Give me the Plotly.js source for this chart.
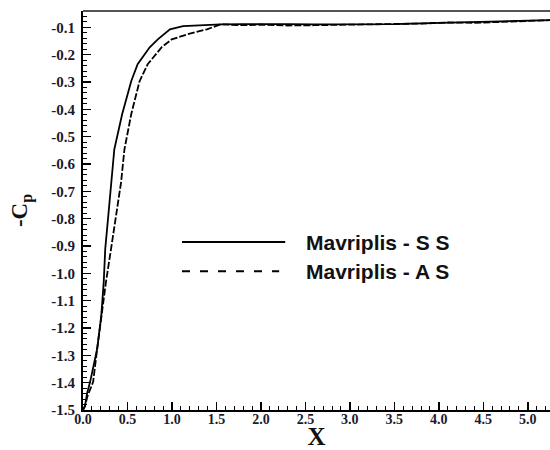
<!DOCTYPE html>
<html>
<head>
<meta charset="utf-8">
<script src="https://cdn.plot.ly/plotly-3.0.1.min.js"></script>
<style>
  html, body { margin: 0; padding: 0; background: #fff; }
  #chart { width: 550px; height: 450px; }
</style>
</head>
<body>
<div id="chart"></div>
<script>
// Pressure coefficient (-Cp) along X, two Mavriplis solutions
const ssX = [0, 0.023, 0.045, 0.08, 0.159, 0.205, 0.233, 0.25, 0.284, 0.315, 0.352, 0.44, 0.542, 0.614, 0.75, 0.841, 0.977, 1.125, 1.3, 1.55, 1.8, 2.0, 2.3, 2.6, 2.9, 3.2, 3.5, 3.8, 4.1, 4.4, 4.7, 5.0, 5.3];
const ssY = [-1.5, -1.485, -1.44, -1.397, -1.277, -1.156, -1.032, -0.911, -0.79, -0.667, -0.546, -0.418, -0.297, -0.235, -0.173, -0.144, -0.107, -0.095, -0.092, -0.089, -0.088, -0.087, -0.088, -0.089, -0.089, -0.089, -0.088, -0.085, -0.083, -0.082, -0.079, -0.076, -0.073];

const asX = [0, 0.023, 0.05, 0.114, 0.159, 0.205, 0.227, 0.258, 0.315, 0.372, 0.428, 0.466, 0.542, 0.636, 0.727, 0.883, 0.997, 1.167, 1.394, 1.545, 1.8, 2.0, 2.3, 2.6, 2.9, 3.2, 3.5, 3.8, 4.1, 4.4, 4.7, 5.0, 5.3];
const asY = [-1.5, -1.485, -1.45, -1.397, -1.277, -1.156, -1.094, -1.032, -0.911, -0.79, -0.667, -0.546, -0.418, -0.297, -0.235, -0.173, -0.144, -0.126, -0.107, -0.089, -0.092, -0.09, -0.093, -0.092, -0.091, -0.09, -0.089, -0.086, -0.082, -0.083, -0.08, -0.077, -0.073];

const seriesNames = ["Mavriplis - S S", "Mavriplis - A S"];

const yTickVals = [-1.5, -1.4, -1.3, -1.2, -1.1, -1.0, -0.9, -0.8, -0.7, -0.6, -0.5, -0.4, -0.3, -0.2, -0.1];
const yTickText = yTickVals.map(v => "<b>" + v.toFixed(1) + "</b>"); // plain hyphen minus
const xTickVals = [0, 0.5, 1.0, 1.5, 2.0, 2.5, 3.0, 3.5, 4.0, 4.5, 5.0];
const xTickText = xTickVals.map(v => "<b>" + v.toFixed(1) + "</b>");

const serif = "Liberation Serif";
const sans = "Liberation Sans";

const traces = [
  { x: ssX, y: ssY, mode: "lines", name: seriesNames[0],
    line: { color: "#000", width: 1.8 }, showlegend: false },
  { x: asX, y: asY, mode: "lines", name: seriesNames[1],
    line: { color: "#000", width: 1.8, dash: "7px,2px" }, showlegend: false }
];

const layout = {
  width: 550, height: 450,
  margin: { l: 83, r: 0, t: 11, b: 40 },
  paper_bgcolor: "#fff", plot_bgcolor: "#fff",
  showlegend: false,
  xaxis: {
    range: [0, 5.25],
    tickvals: xTickVals, ticktext: xTickText,
    ticks: "inside", ticklen: 8, tickwidth: 1.5, tickcolor: "#000",
    minor: { dtick: 0.1, ticks: "inside", ticklen: 4, tickwidth: 1, tickcolor: "#000", showgrid: false },
    showgrid: false, zeroline: false,
    showline: true, linecolor: "#000", linewidth: 2, mirror: false,
    ticklabelstandoff: -5,
    tickfont: { family: serif, size: 14, color: "#1a1a2e" },
    title: { text: "<b>X</b>", font: { family: serif, size: 25, color: "#111" }, standoff: 0 }
  },
  yaxis: {
    range: [-1.5, -0.04],
    tickvals: yTickVals, ticktext: yTickText,
    ticks: "inside", ticklen: 8, tickwidth: 1.5, tickcolor: "#000",
    minor: { dtick: 0.02, ticks: "inside", ticklen: 4, tickwidth: 1, tickcolor: "#000", showgrid: false },
    showgrid: false, zeroline: false,
    showline: true, linecolor: "#000", linewidth: 2, mirror: false,
    ticklabelstandoff: 3,
    tickfont: { family: serif, size: 15, color: "#1a1a2e" },
    title: { text: "<b>-C<sub>p</sub></b>", font: { family: serif, size: 23, color: "#111" }, standoff: 17 }
  },
  shapes: [
    // top frame line
    { type: "line", xref: "paper", yref: "paper", x0: 0, x1: 1, y0: 1, y1: 1,
      line: { color: "#555", width: 2 } },
    // legend samples
    { type: "line", xref: "paper", yref: "paper", x0: 0.212, x1: 0.433, y0: 0.421, y1: 0.421,
      line: { color: "#000", width: 2 } },
    { type: "line", xref: "paper", yref: "paper", x0: 0.212, x1: 0.42, y0: 0.348, y1: 0.348,
      line: { color: "#000", width: 2, dash: "8px,10px" } }
  ],
  annotations: [
    { xref: "paper", yref: "paper", x: 0.473, y: 0.421, xanchor: "left", yanchor: "middle",
      text: "<b>" + seriesNames[0] + "</b>", showarrow: false,
      font: { family: sans, size: 21, color: "#111" } },
    { xref: "paper", yref: "paper", x: 0.473, y: 0.348, xanchor: "left", yanchor: "middle",
      text: "<b>" + seriesNames[1] + "</b>", showarrow: false,
      font: { family: sans, size: 21, color: "#111" } }
  ]
};

Plotly.newPlot("chart", traces, layout, { staticPlot: true, displayModeBar: false });
</script>
</body>
</html>
